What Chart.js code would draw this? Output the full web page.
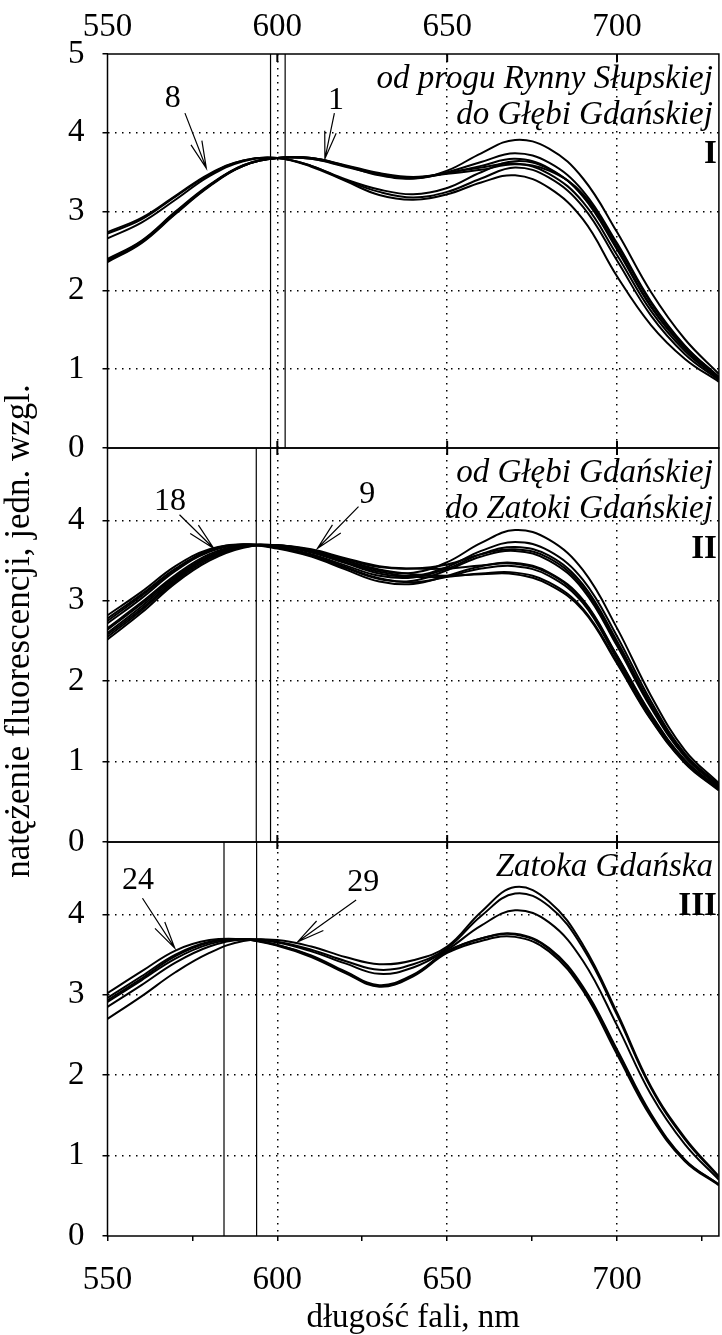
<!DOCTYPE html>
<html><head><meta charset="utf-8">
<script src="https://cdn.jsdelivr.net/npm/chart.js@4.4.1/dist/chart.umd.min.js"></script>
<style>html,body{margin:0;padding:0;background:#fff;}canvas{display:block;}</style>
</head><body>
<canvas id="c" width="722" height="1335" style="width:722px;height:1335px"></canvas>
<script>
// ---- data ----
const wavelengths = [550,560,570,580,590,600,610,620,630,640,650,660,670,680,690,700,710,720,730];

// Panel I: od progu Rynny Słupskiej do Głębi Gdańskiej (spectra 1–8)
const specI_1 = [2.36,2.60,2.97,3.32,3.58,3.68,3.68,3.58,3.48,3.43,3.50,3.63,3.74,3.62,3.26,2.60,1.86,1.30,0.90];
const specI_2 = [2.40,2.63,3.00,3.34,3.59,3.68,3.67,3.57,3.47,3.42,3.49,3.56,3.61,3.48,3.12,2.45,1.74,1.23,0.87];
const specI_3 = [2.38,2.62,2.98,3.33,3.58,3.68,3.68,3.58,3.46,3.42,3.52,3.74,3.91,3.80,3.42,2.74,1.98,1.38,0.94];
const specI_4 = [2.74,2.92,3.20,3.48,3.65,3.68,3.58,3.41,3.28,3.22,3.30,3.50,3.64,3.54,3.20,2.54,1.80,1.27,0.89];
const specI_5 = [2.72,2.90,3.19,3.47,3.65,3.68,3.57,3.39,3.21,3.15,3.22,3.37,3.46,3.30,2.90,2.18,1.56,1.13,0.84];
const specI_6 = [2.66,2.86,3.15,3.45,3.64,3.68,3.58,3.40,3.25,3.18,3.25,3.42,3.56,3.43,3.06,2.38,1.68,1.19,0.86];
const specI_7 = [2.37,2.61,2.98,3.33,3.58,3.68,3.68,3.59,3.49,3.44,3.49,3.58,3.67,3.55,3.19,2.52,1.79,1.26,0.88];
const specI_8 = [2.39,2.62,2.99,3.33,3.59,3.68,3.67,3.58,3.48,3.43,3.48,3.53,3.60,3.52,3.22,2.58,1.84,1.29,0.90];

// Panel II: od Głębi Gdańskiej do Zatoki Gdańskiej (spectra 9–18)
const specII_1  = [2.60,2.93,3.28,3.55,3.68,3.69,3.62,3.50,3.38,3.35,3.48,3.72,3.88,3.76,3.38,2.66,1.82,1.14,0.73];
const specII_2  = [2.66,2.98,3.32,3.58,3.69,3.68,3.60,3.47,3.34,3.31,3.42,3.62,3.73,3.62,3.26,2.56,1.75,1.10,0.71];
const specII_3  = [2.72,3.03,3.37,3.61,3.70,3.67,3.58,3.44,3.31,3.29,3.40,3.58,3.67,3.56,3.20,2.50,1.71,1.08,0.70];
const specII_4  = [2.55,2.88,3.24,3.52,3.67,3.69,3.63,3.52,3.42,3.40,3.45,3.58,3.64,3.53,3.17,2.47,1.69,1.07,0.69];
const specII_5  = [2.78,3.08,3.40,3.63,3.70,3.66,3.56,3.41,3.27,3.25,3.38,3.55,3.62,3.50,3.14,2.44,1.67,1.06,0.69];
const specII_6  = [2.82,3.11,3.43,3.64,3.70,3.65,3.55,3.39,3.24,3.21,3.31,3.43,3.47,3.35,3.01,2.32,1.59,1.02,0.67];
const specII_7  = [2.52,2.85,3.22,3.50,3.66,3.69,3.64,3.53,3.43,3.40,3.40,3.44,3.46,3.34,3.00,2.31,1.58,1.01,0.67];
const specII_8  = [2.75,3.06,3.38,3.62,3.70,3.66,3.57,3.42,3.28,3.23,3.30,3.40,3.43,3.31,2.97,2.28,1.56,1.00,0.66];
const specII_9  = [2.64,2.96,3.30,3.56,3.68,3.68,3.61,3.48,3.36,3.30,3.30,3.34,3.35,3.23,2.90,2.24,1.53,0.99,0.65];
const specII_10 = [2.58,2.90,3.26,3.54,3.67,3.69,3.62,3.50,3.39,3.33,3.31,3.33,3.33,3.20,2.88,2.22,1.52,0.98,0.64];

// Panel III: Zatoka Gdańska (spectra 24–29)
const specIII_1 = [2.70,2.98,3.28,3.52,3.67,3.68,3.60,3.47,3.38,3.43,3.60,4.03,4.34,4.16,3.62,2.78,1.86,1.22,0.74];
const specIII_2 = [2.85,3.12,3.40,3.60,3.69,3.66,3.56,3.42,3.31,3.38,3.58,3.98,4.26,4.10,3.58,2.75,1.84,1.20,0.73];
const specIII_3 = [2.91,3.18,3.45,3.63,3.69,3.65,3.54,3.39,3.26,3.34,3.56,3.86,4.05,3.90,3.42,2.62,1.76,1.14,0.70];
const specIII_4 = [2.96,3.23,3.50,3.66,3.69,3.62,3.48,3.28,3.11,3.24,3.54,3.70,3.76,3.58,3.10,2.32,1.52,0.95,0.64];
const specIII_5 = [3.02,3.29,3.55,3.68,3.69,3.61,3.47,3.27,3.10,3.23,3.52,3.67,3.72,3.54,3.05,2.26,1.48,0.93,0.63];
const specIII_6 = [2.93,3.20,3.48,3.65,3.69,3.62,3.49,3.29,3.12,3.25,3.54,3.70,3.75,3.57,3.08,2.30,1.50,0.94,0.64];

// vertical marker lines (nm) in each panel
const markersI = [598, 602.3];
const markersII = [593.8, 598];
const markersIII = [584.3, 593.9];

// axis ticks
const xTickLabels = [550, 600, 650, 700];
const xTickMarks = [550, 575, 600, 625, 650, 675, 700, 725];
const yTicksI = [0, 1, 2, 3, 4, 5];
const yTicksII = [0, 1, 2, 3, 4];
const yTicksIII = [0, 1, 2, 3, 4];
const yMaxI = 5, yMaxII = 4.9, yMaxIII = 4.9;

// texts
const yTitle = 'natężenie fluorescencji, jedn. wzgl.';
const xTitle = 'długość fali, nm';
const captionI = ['od progu Rynny Słupskiej', 'do Głębi Gdańskiej'];
const captionII = ['od Głębi Gdańskiej', 'do Zatoki Gdańskiej'];
const captionIII = ['Zatoka Gdańska'];
const romanI = 'I', romanII = 'II', romanIII = 'III';

// numbered arrows: [label, label nm, label value, from nm, from value, tip nm, tip value]
const arrowsI = [['8', 569.2, 4.43, 572.8, 4.25, 579.1, 3.55], ['1', 617.3, 4.41, 616.8, 4.25, 614.0, 3.67]];
const arrowsII = [['18', 568.4, 4.23, 571.2, 4.07, 581.3, 3.65], ['9', 626.5, 4.32, 623.9, 4.17, 611.8, 3.65]];
const arrowsIII = [['24', 559.0, 4.42, 560.3, 4.20, 569.8, 3.58], ['29', 625.3, 4.40, 623.2, 4.18, 606.0, 3.66]];

// ---- build ----
const FAMILY = '"Liberation Serif", "Times New Roman", serif';
const datasets = [];
function addCurves(list, axis) {
  list.forEach(vals => datasets.push({
    data: wavelengths.map((w, i) => ({x: w, y: vals[i]})),
    xAxisID: 'x', yAxisID: axis, borderColor: '#000', borderWidth: 2,
    pointRadius: 0, fill: false, tension: 0.4
  }));
}
function addMarkers(list, axis, top) {
  list.forEach(v => datasets.push({
    data: [{x: v, y: 0}, {x: v, y: top}],
    xAxisID: 'x', yAxisID: axis, borderColor: '#000', borderWidth: 1.2,
    pointRadius: 0, fill: false, tension: 0
  }));
}
addCurves([specI_1, specI_2, specI_3, specI_4, specI_5, specI_6, specI_7, specI_8], 'yA');
addCurves([specII_1, specII_2, specII_3, specII_4, specII_5, specII_6, specII_7, specII_8, specII_9, specII_10], 'yB');
addCurves([specIII_1, specIII_2, specIII_3, specIII_4, specIII_5, specIII_6], 'yC');
addMarkers(markersI, 'yA', yMaxI);
addMarkers(markersII, 'yB', yMaxII);
addMarkers(markersIII, 'yC', yMaxIII);

function yAxis(ticksArr, max, weight) {
  return {
    type: 'linear', position: 'left', stack: 'panels', stackWeight: 1, weight: weight,
    min: 0, max: max,
    afterBuildTicks: s => { s.ticks = ticksArr.map(v => ({value: v})); },
    afterFit: s => { s.width = 107.5; },
    grid: {
      color: c => (c.tick && c.tick.value > 0 && c.tick.value < max) ? '#000' : 'rgba(0,0,0,0)',
      lineWidth: 1.5, drawTicks: true, tickLength: 5, tickColor: '#000', tickWidth: 1.5
    },
    border: {display: false, dash: [1.5, 5.5]},
    ticks: {color: '#000', font: {family: FAMILY, size: 33}, padding: 18, callback: v => String(v)}
  };
}

const decor = {
  id: 'decor',
  afterDraw(chart) {
    const ctx = chart.ctx;
    const {left, right, top} = chart.chartArea;
    const xs = chart.scales.x;
    const panels = [
      {s: chart.scales.yA, cap: captionI, roman: romanI, arrows: arrowsI, romanDy: 109},
      {s: chart.scales.yB, cap: captionII, roman: romanII, arrows: arrowsII, romanDy: 110},
      {s: chart.scales.yC, cap: captionIII, roman: romanIII, arrows: arrowsIII, romanDy: 73}
    ];
    ctx.save();
    ctx.strokeStyle = '#000';
    ctx.fillStyle = '#000';
    ctx.setLineDash([]);
    // frames
    ctx.lineWidth = 1.5;
    panels.forEach(p => { ctx.strokeRect(left, p.s.top, right - left, p.s.bottom - p.s.top); });
    // inward ticks at top, crossing ticks at dividers
    ctx.lineWidth = 2;
    ctx.beginPath();
    xTickLabels.forEach(v => {
      if (v === 550) return;
      const px = xs.getPixelForValue(v);
      ctx.moveTo(px, top); ctx.lineTo(px, top + 8);
      [panels[0].s.bottom, panels[1].s.bottom].forEach(yb => { ctx.moveTo(px, yb - 7); ctx.lineTo(px, yb + 7); });
    });
    ctx.stroke();
    // captions and numbered arrows
    panels.forEach(p => {
      ctx.textAlign = 'right';
      ctx.textBaseline = 'alphabetic';
      ctx.font = 'italic 33px ' + FAMILY;
      p.cap.forEach((t, i) => ctx.fillText(t, right - 6, p.s.top + 34 + i * 35.5));
      ctx.font = 'bold 33px ' + FAMILY;
      ctx.fillText(p.roman, right - 2, p.s.top + p.romanDy);
      ctx.font = '32px ' + FAMILY;
      ctx.textAlign = 'center';
      ctx.textBaseline = 'middle';
      ctx.lineWidth = 1.2;
      p.arrows.forEach(a => {
        ctx.fillText(a[0], xs.getPixelForValue(a[1]), p.s.getPixelForValue(a[2]));
        const x1 = xs.getPixelForValue(a[3]), y1 = p.s.getPixelForValue(a[4]);
        const x2 = xs.getPixelForValue(a[5]), y2 = p.s.getPixelForValue(a[6]);
        const ang = Math.atan2(y1 - y2, x1 - x2), L = 28, h = 0.21;
        ctx.beginPath();
        ctx.moveTo(x1, y1); ctx.lineTo(x2, y2);
        ctx.moveTo(x2 + L * Math.cos(ang + h), y2 + L * Math.sin(ang + h));
        ctx.lineTo(x2, y2);
        ctx.lineTo(x2 + L * Math.cos(ang - h), y2 + L * Math.sin(ang - h));
        ctx.stroke();
      });
    });
    // vertical axis title (spans all three panels)
    ctx.translate(20, 631);
    ctx.rotate(-Math.PI / 2);
    ctx.font = '35px ' + FAMILY;
    ctx.textAlign = 'center';
    ctx.textBaseline = 'middle';
    ctx.fillText(yTitle, 0, 0);
    ctx.restore();
  }
};

new Chart(document.getElementById('c'), {
  type: 'line',
  data: {datasets: datasets},
  options: {
    responsive: false, animation: false, devicePixelRatio: 1,
    layout: {padding: {left: 0, right: 2, top: 0, bottom: 0}},
    plugins: {legend: {display: false}, tooltip: {enabled: false}},
    scales: {
      x: {
        type: 'linear', position: 'bottom', min: 550, max: 730,
        afterBuildTicks: s => { s.ticks = xTickMarks.map(v => ({value: v})); },
        afterFit: s => { s.height = 99; },
        grid: {
          color: c => (c.tick && [600, 650, 700].includes(c.tick.value)) ? '#000' : 'rgba(0,0,0,0)',
          lineWidth: 1.5, drawTicks: true, tickLength: 5, tickColor: '#000', tickWidth: 1.5
        },
        border: {display: false, dash: [1.5, 5.5]},
        ticks: {color: '#000', font: {family: FAMILY, size: 33}, padding: 20, maxRotation: 0, autoSkip: false,
          callback: v => xTickLabels.includes(v) ? String(v) : ''},
        title: {display: true, text: xTitle, color: '#000', font: {family: FAMILY, size: 33, lineHeight: 1}, padding: {top: 0, bottom: 0}}
      },
      xTop: {
        type: 'linear', position: 'top', min: 550, max: 730,
        afterBuildTicks: s => { s.ticks = xTickLabels.map(v => ({value: v})); },
        afterFit: s => { s.height = 54; },
        grid: {display: false, drawTicks: false},
        border: {display: false},
        ticks: {color: '#000', font: {family: FAMILY, size: 33}, padding: 7, maxRotation: 0, autoSkip: false, callback: v => String(v)}
      },
      yC: yAxis(yTicksIII, yMaxIII, 1),
      yB: yAxis(yTicksII, yMaxII, 2),
      yA: yAxis(yTicksI, yMaxI, 3)
    }
  },
  plugins: [decor]
});
</script>
</body></html>
